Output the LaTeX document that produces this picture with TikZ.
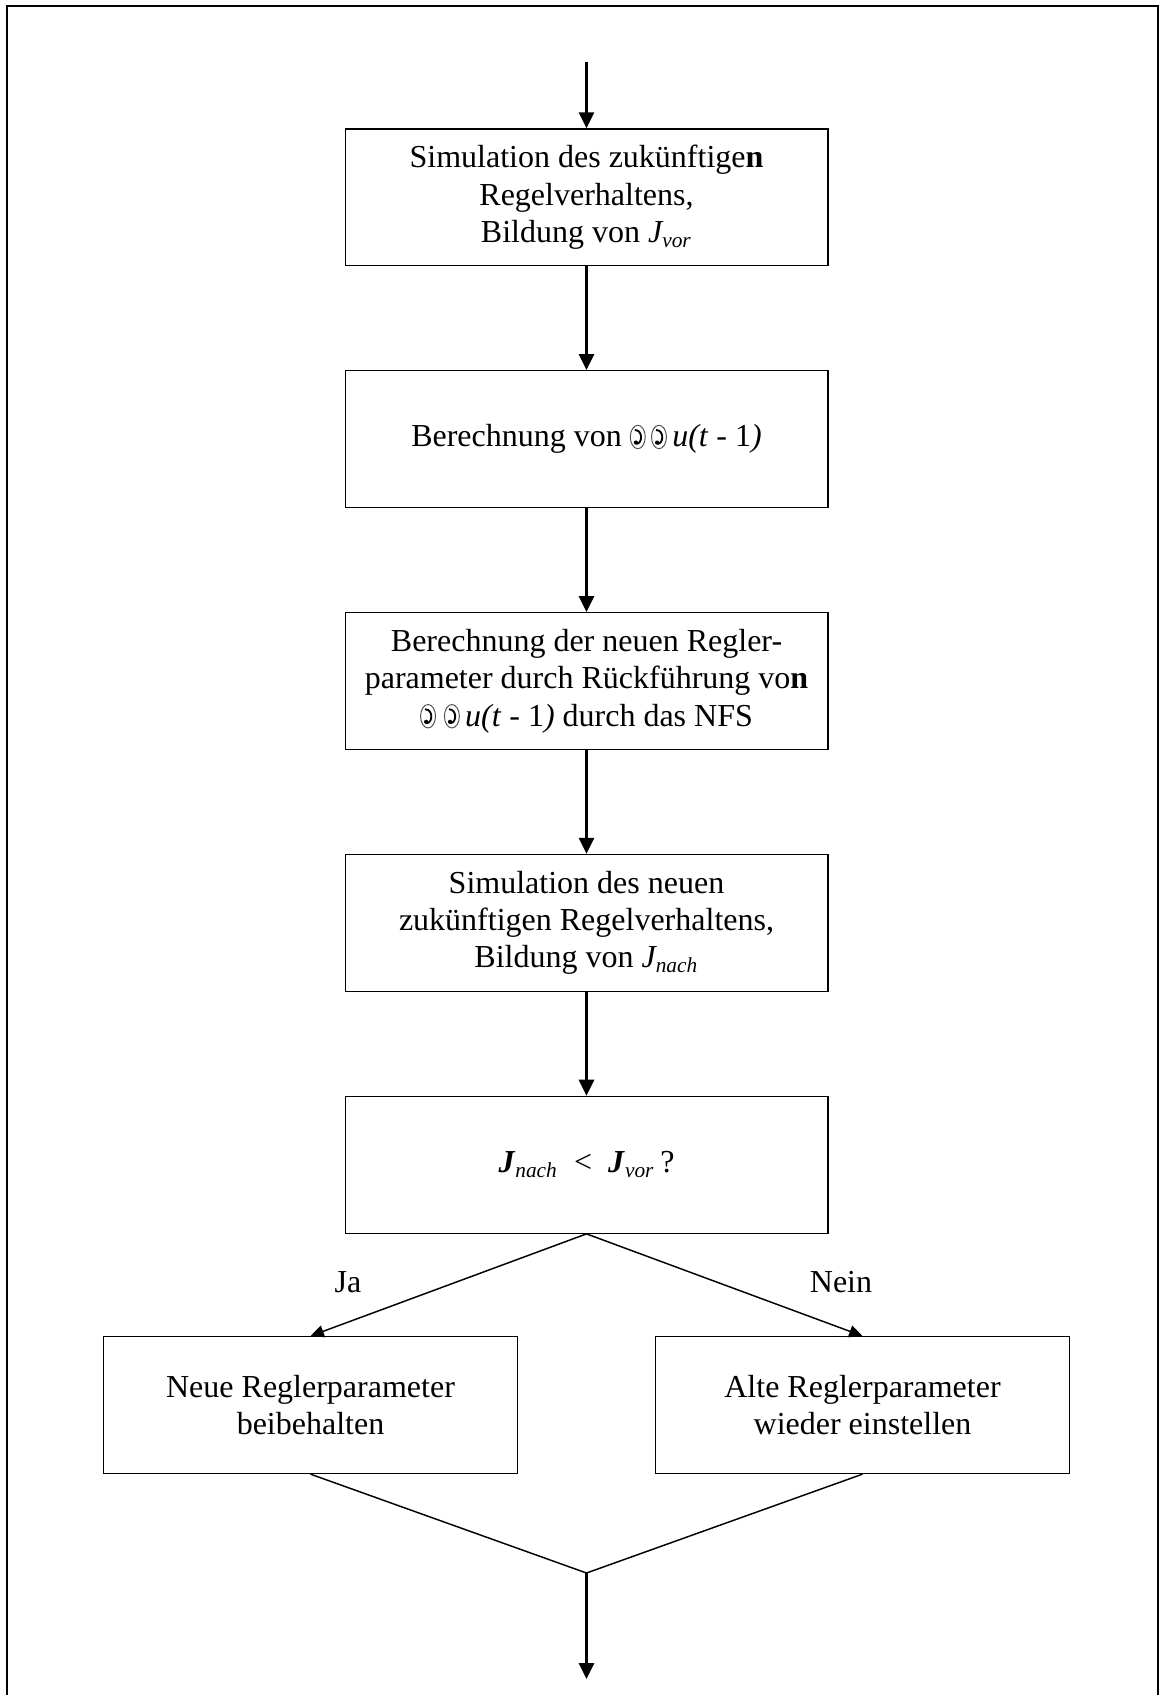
\documentclass[tikz,border=0pt]{standalone}
\usepackage{fontspec}
\setmainfont{Liberation Serif}
\usepackage{tikz}
\usetikzlibrary{positioning,arrows.meta}
\newcommand{\oddglyph}{\tikz[baseline=0pt,x=1pt,y=1pt,line width=0.35pt]{%
  \draw[black!70] (0,3.7) ellipse [x radius=2.8pt,y radius=4.4pt];
  \draw[line width=0.7pt] (-1.1,6.3) .. controls (1.9,6.4) and (1.9,1.3) .. (-0.5,1.1);
  \fill (-0.7,1.6) circle [radius=0.8pt];}}
\tikzset{
  fcbox/.style={
    rectangle,
    draw=black,
    line width=0.5pt,
    fill=white,
    align=center,
    inner sep=2pt,
    font=\fontsize{12}{14}\selectfont,
    minimum width=181pt,
    minimum height=51.3pt
  },
  fcside/.style={fcbox,minimum width=155.3pt},
  fcarrow/.style={-{Triangle[length=6pt,width=5.6pt]},line width=1.1pt,draw=black},
  fcthinarr/.style={-{Triangle[length=5pt,width=4.6pt]},line width=0.55pt,draw=black},
  fcline/.style={line width=0.55pt,draw=black},
  fcframe/.style={line width=0.8pt,draw=black},
  fclabel/.style={font=\fontsize{12}{14}\selectfont,inner sep=0pt},
}
\begin{document}
\begin{tikzpicture}[x=0.375pt,y=-0.375pt,node distance=38.9pt]
  \useasboundingbox (0,0) rectangle (1161,1695);
  \draw[fcframe] (7,1695) -- (7,6) -- (1158,6) -- (1158,1695);

  \coordinate (start) at (586.5,61.6);
  \node[fcbox,below=25pt of start] (simvor)
    {Simulation des zukünftige\textbf{n}\\
     Regelverhaltens,\\
     Bildung von \textit{J\textsubscript{vor}}};
  \node[fcbox,below=of simvor] (delta)
    {Berechnung von \oddglyph\,\oddglyph\,\textit{u(t} - 1\textit{)}};
  \node[fcbox,below=of delta] (nfs)
    {Berechnung der neuen Regler-\\
     parameter durch Rückführung vo\textbf{n}\\
     \oddglyph\ \oddglyph\,\textit{u(t} - 1\textit{)} durch das NFS};
  \node[fcbox,below=of nfs] (simnach)
    {Simulation des neuen\\
     zukünftigen Regelverhaltens,\\
     Bildung von \textit{J\textsubscript{nach}}};
  \node[fcbox,below=of simnach] (test)
    {\textbf{\textit{J}}\textsubscript{\textit{nach}}\ \ <\ \ \textbf{\textit{J}}\textsubscript{\textit{vor}}\,?};
  \node[fcside,below=38.3pt of test,xshift=-103.5pt] (keep)
    {Neue Reglerparameter\\beibehalten};
  \node[fcside,below=38.3pt of test,xshift=103.5pt] (reset)
    {Alte Reglerparameter\\wieder einstellen};
  \coordinate (merge) at (586.5,1573);
  \coordinate (finish) at (586.5,1679);

  \node[fclabel] (ja) at (348,1282) {Ja};
  \node[fclabel] (nein) at (841,1282) {Nein};

  \draw[fcarrow] (start) -- (simvor);
  \draw[fcarrow] (simvor) -- (delta);
  \draw[fcarrow] (delta) -- (nfs);
  \draw[fcarrow] (nfs) -- (simnach);
  \draw[fcarrow] (simnach) -- (test);
  \draw[fcthinarr] (test.south) -- (keep.north);
  \draw[fcthinarr] (test.south) -- (reset.north);
  \draw[fcline] (keep.south) -- (merge) -- (reset.south);
  \draw[fcarrow] (merge) -- (finish);
\end{tikzpicture}
\end{document}
